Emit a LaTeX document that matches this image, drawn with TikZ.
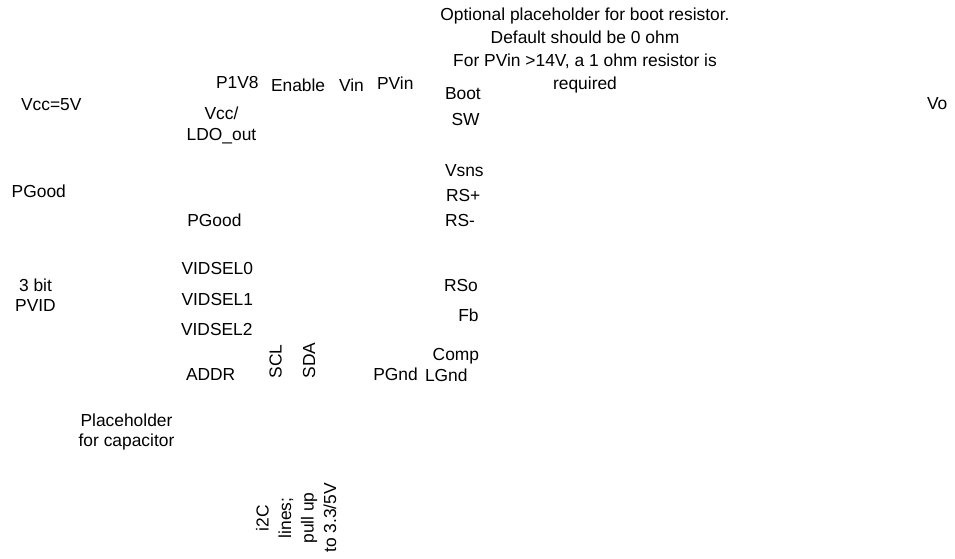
\documentclass[tikz,border=0pt]{standalone}
\usepackage{fontspec}
\setmainfont{Liberation Sans}
\begin{document}
\begin{tikzpicture}[x=1pt,y=-1pt,
  lbl/.style={inner sep=0pt, outer sep=0pt, text=black,
    font=\fontsize{17.4}{20.5}\selectfont, anchor=base west},
  blk/.style={lbl, anchor=base, align=center},
  vert/.style={lbl, rotate=90}]
\useasboundingbox[fill=white] (0,0) rectangle (955,559);
% left labels
\node[lbl] (vcc) at (21,110.7) {Vcc=5V};
\node[lbl] (pgoodl) at (11.7,197.3) {PGood};
\node[blk, font=\fontsize{17.4}{20}\selectfont] (pvid) at (35.5,311.7) {3 bit\\PVID};
\node[blk, font=\fontsize{17.4}{20}\selectfont] (cap) at (126.5,446) {Placeholder\\for capacitor};
% top pins
\node[lbl] (p1v8) at (216,88.3) {P1V8};
\node[lbl] (enable) at (271,91.5) {Enable};
\node[lbl] (vin) at (339,91.5) {Vin};
\node[lbl] (pvin) at (377,90) {PVin};
% left pins
\node[blk, font=\fontsize{17.4}{20.5}\selectfont] (ldo) at (221.5,140) {Vcc/\\LDO\_out};
\node[lbl] (pgoodr) at (187.3,226.7) {PGood};
\node[lbl] (vid0) at (181.5,274) {VIDSEL0};
\node[lbl] (vid1) at (181.5,305) {VIDSEL1};
\node[lbl] (vid2) at (181,335) {VIDSEL2};
\node[lbl] (addr) at (186,380) {ADDR};
% bottom pins
\node[vert] (scl) at (281.7,378.3) {SCL};
\node[vert] (sda) at (315,378.3) {SDA};
\node[lbl] (pgnd) at (373.3,380) {PGnd};
\node[lbl] (lgnd) at (425,381.7) {LGnd};
% right pins
\node[lbl] (boot) at (445,100) {Boot};
\node[lbl] (sw) at (451.5,125) {SW};
\node[lbl] (vsns) at (445,176.7) {Vsns};
\node[lbl] (rsp) at (446,201.7) {RS+};
\node[lbl] (rsm) at (445,226.7) {RS-};
\node[lbl] (rso) at (444,291.7) {RSo};
\node[lbl] (fb) at (458.3,321.7) {Fb};
\node[lbl] (comp) at (432.7,360) {Comp};
% notes
\node[blk, font=\fontsize{17.4}{23}\selectfont] (bootnote) at (585,89.5)
  {Optional placeholder for boot resistor.\\Default should be 0 ohm\\For PVin >14V, a 1 ohm resistor is\\required};
\node[blk, rotate=90, font=\fontsize{17.4}{22.5}\selectfont] (i2c) at (336,518)
  {i2C\\lines;\\pull up\\to 3.3/5V};
\node[lbl] (vo) at (927,110) {Vo};
\end{tikzpicture}
\end{document}
